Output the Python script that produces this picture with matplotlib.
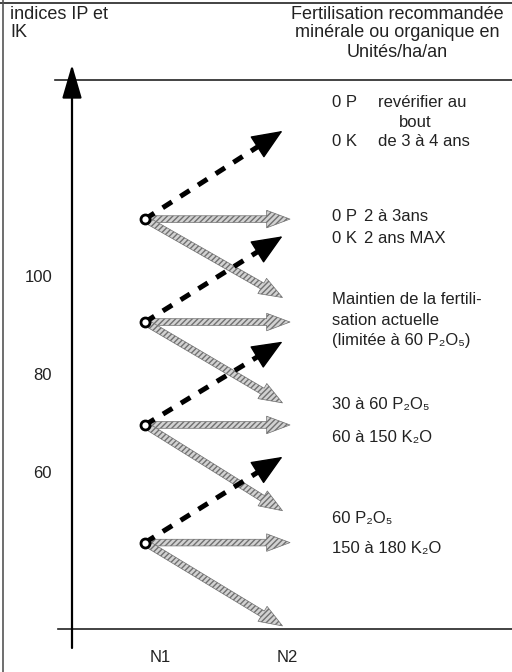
import matplotlib
matplotlib.use("Agg")
import matplotlib.pyplot as plt
from matplotlib.patches import FancyArrowPatch

plt.rcParams['font.family'] = ['Liberation Sans', 'DejaVu Sans']

# ---- data (index values IP / IK, positions N1 -> N2) ----
node_levels = [112, 91, 70, 46]          # starting index at N1
up_ends = [130, 108.5, 87, 63.5]         # dashed black arrows (index rises)
down_ends = [96, 74.5, 52.5, 29]         # grey diagonal arrows (index falls)
x_start = 0.88
x_end = 1.98
x_end_flat = 2.04

tick_values = [100, 80, 60]
tick_labels = ["100", "80", "60"]
x_labels = ["N1", "N2"]
x_label_pos = [1.0, 2.02]

header_left = ["indices IP et", "IK"]
header_right = ["Fertilisation recommandée", "minérale ou organique en", "Unités/ha/an"]

# right column texts: (text, y level, x)
right_texts = [
    ("0 P", 135.7, 2.376), ("revérifier au", 135.7, 2.74),
    ("bout", 131.8, None), ("0 K", 127.9, 2.376), ("de 3 à 4 ans", 127.9, 2.74),
    ("0 P", 112.6, 2.376), ("2 à 3ans", 112.6, 2.63),
    ("0 K", 108.1, 2.376), ("2 ans MAX", 108.1, 2.63),
    ("Maintien de la fertili-", 95.5, 2.376),
    ("sation actuelle", 91.4, 2.376),
    ("(limitée à 60 P₂O₅)", 87.3, 2.376),
    ("30 à 60 P₂O₅", 74.1, 2.376),
    ("60 à 150 K₂O", 67.5, 2.376),
    ("60 P₂O₅", 51.0, 2.376),
    ("150 à 180 K₂O", 44.7, 2.376),
]

fig = plt.figure(figsize=(5.12, 6.72), dpi=100)
ax = fig.add_axes([0, 0, 1, 1])
ax.set_xlim(-0.28, 3.816)
ax.set_ylim(19.6, 156.7)
ax.axis('off')

ink = '#222222'
FS = 12
FS_HEAD = 13

# frame lines
ax.plot([-0.28, 3.816], [156.1, 156.1], color=ink, lw=1.2)
ax.plot([-0.256, -0.256], [19.6, 156.7], color='#555555', lw=1.2)
ax.plot([0.16, 3.816], [140.4, 140.4], color=ink, lw=1.2)
ax.plot([0.184, 3.816], [28.4, 28.4], color=ink, lw=1.2)

# vertical axis with arrow
ax.annotate("", xy=(0.296, 143.5), xytext=(0.296, 24.5),
            arrowprops=dict(arrowstyle='-|>,head_length=1.3,head_width=0.38',
                            mutation_scale=16, lw=1.6, color='black',
                            shrinkA=0, shrinkB=0))

# arrows
head_frac = 0.84
for y0, yu, yd in zip(node_levels, up_ends, down_ends):
    for ye, xe in ((y0, x_end_flat), (yd, x_end)):
        p = FancyArrowPatch((x_start, y0), (xe, ye),
                            arrowstyle='simple,head_length=1.4,head_width=1.05,tail_width=0.4',
                            mutation_scale=12, facecolor='#d2d2d2', edgecolor='#707070',
                            hatch='//////', lw=0.5, shrinkA=4, shrinkB=0)
        ax.add_patch(p)
    # dashed body of the rising arrow
    xb = x_start + head_frac * (x_end - x_start)
    yb = y0 + head_frac * (yu - y0)
    ax.plot([x_start, xb], [y0, yb], color='black', lw=3.6,
            dashes=(2.2, 2.0), dash_capstyle='butt', solid_capstyle='butt')
    # solid head
    ax.annotate("", xy=(x_end, yu), xytext=(xb - 0.02 * (x_end - x_start), yb - 0.02 * (yu - y0)),
                arrowprops=dict(arrowstyle='-|>,head_length=1.0,head_width=0.42',
                                mutation_scale=20, lw=1.0, color='black',
                                shrinkA=0, shrinkB=0))
    ax.plot([x_start], [y0], 'o', ms=6.5, mfc='white', mec='black', mew=2, zorder=5)

# tick labels
for v, lab in zip(tick_values, tick_labels):
    ax.text(0.136, v, lab, ha='right', va='center', fontsize=FS, color=ink)
for xp, lab in zip(x_label_pos, x_labels):
    ax.text(xp, 22.5, lab, ha='center', va='center', fontsize=FS, color=ink)

# headers
ax.text(-0.2, 153.8, header_left[0], ha='left', va='center', fontsize=FS_HEAD, color=ink)
ax.text(-0.2, 150.0, header_left[1], ha='left', va='center', fontsize=FS_HEAD, color=ink)
for t, v in zip(header_right, [153.8, 150.0, 145.9]):
    ax.text(2.896, v, t, ha='center', va='center', fontsize=FS_HEAD, color=ink)

for t, v, xp in right_texts:
    if xp is None:
        ax.text(3.04, v, t, ha='center', va='center', fontsize=FS, color=ink)
    else:
        ax.text(xp, v, t, ha='left', va='center', fontsize=FS, color=ink)

fig.savefig("out.png", dpi=100)
